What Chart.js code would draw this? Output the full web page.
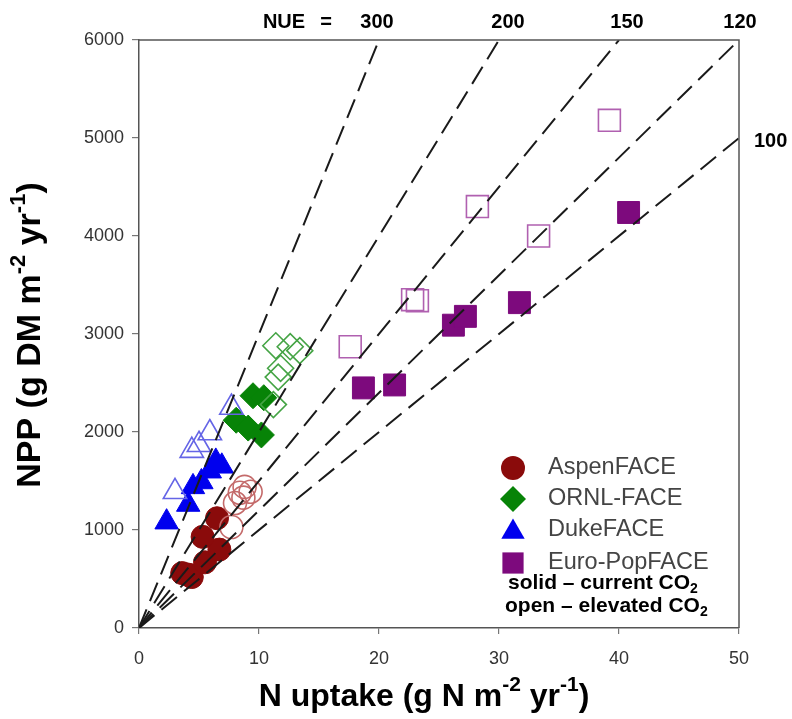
<!DOCTYPE html>
<html><head><meta charset="utf-8">
<script src="https://cdn.jsdelivr.net/npm/chart.js@4/dist/chart.umd.min.js"></script>
<style>html,body{margin:0;padding:0;background:#fff}#wrap{width:792px;height:719px}</style>
</head><body><div id="wrap"><canvas id="c" width="792" height="719"></canvas></div>
<script>
// ---- data ----
const nueValues = [300, 200, 150, 120, 100];
const xTicks = [0, 10, 20, 30, 40, 50];
const yTicks = [0, 1000, 2000, 3000, 4000, 5000, 6000];
const sites = ['AspenFACE', 'ORNL-FACE', 'DukeFACE', 'Euro-PopFACE'];

const aspenCurrentX = [3.6, 4.4, 4.1, 5.5, 6.7, 5.3, 6.5];
const aspenCurrentY = [560, 520, 545, 670, 800, 930, 1120];
const aspenElevX = [7.7, 8.0, 8.4, 8.8, 9.3, 8.7];
const aspenElevY = [1030, 1275, 1380, 1440, 1390, 1330];

const ornlCurrentX = [9.5, 10.4, 8.1, 9.1, 10.2];
const ornlCurrentY = [2370, 2350, 2120, 2040, 1970];
const ornlElevX = [11.4, 12.6, 13.4, 11.8, 11.6, 11.2];
const ornlElevY = [2880, 2870, 2830, 2650, 2560, 2280];

const dukeCurrentX = [2.3, 4.1, 4.5, 5.2, 5.9, 6.4, 6.9];
const dukeCurrentY = [1080, 1260, 1440, 1490, 1600, 1700, 1650];
const dukeElevX = [3.0, 4.4, 5.0, 5.9, 7.7];
const dukeElevY = [1390, 1810, 1870, 1990, 2250];

const euroCurrentX = [18.7, 21.3, 26.2, 27.2, 31.7, 40.8];
const euroCurrentY = [2450, 2480, 3090, 3180, 3320, 4240];
const euroElevX = [17.6, 22.8, 23.2, 28.2, 33.3, 39.2];
const euroElevY = [2870, 3350, 3340, 4300, 4000, 5180];

const X_MAX = 50, Y_MAX = 6000;

function pts(xs, ys) { return xs.map((x, i) => ({ x: x, y: ys[i] })); }

const colors = {
  aspen: '#8a0b0b', aspenOpen: '#c46a6a',
  ornl: '#078307', ornlOpen: '#45a445',
  duke: '#0000ee', dukeOpen: '#6565e6',
  euro: '#7d0a7d', euroOpen: '#b060b0'
};
const FAM = '"Liberation Sans", Arial, sans-serif';

function markerSet(label, data, style, radius, color, filled) {
  return {
    label: label, data: data, order: 2,
    pointStyle: style, pointRadius: radius, pointHoverRadius: radius,
    pointBackgroundColor: filled ? color : 'rgba(0,0,0,0)',
    pointBorderColor: color, pointBorderWidth: filled ? 1 : 1.6,
    showLine: false
  };
}

const R = { circle: 11.5, rectRot: 13, triangle: 13.5, rect: 15.5 };
const datasets = [];
datasets.push(markerSet('Aspen elevated', pts(aspenElevX, aspenElevY), 'circle', R.circle, colors.aspenOpen, false));
datasets.push(markerSet('ORNL elevated', pts(ornlElevX, ornlElevY), 'rectRot', R.rectRot, colors.ornlOpen, false));
datasets.push(markerSet('Duke elevated', pts(dukeElevX, dukeElevY), 'triangle', R.triangle, colors.dukeOpen, false));
datasets.push(markerSet('Euro elevated', pts(euroElevX, euroElevY), 'rect', R.rect, colors.euroOpen, false));
datasets.push(markerSet('Aspen current', pts(aspenCurrentX, aspenCurrentY), 'circle', R.circle, colors.aspen, true));
datasets.push(markerSet('ORNL current', pts(ornlCurrentX, ornlCurrentY), 'rectRot', R.rectRot, colors.ornl, true));
datasets.push(markerSet('Duke current', pts(dukeCurrentX, dukeCurrentY), 'triangle', R.triangle, colors.duke, true));
datasets.push(markerSet('Euro current', pts(euroCurrentX, euroCurrentY), 'rect', R.rect, colors.euro, true));

nueValues.forEach(n => {
  const xEnd = Math.min(X_MAX, Y_MAX / n);
  datasets.push({
    label: 'NUE ' + n, order: 0,
    data: [{ x: 0, y: 0 }, { x: xEnd, y: n * xEnd }],
    showLine: true, borderColor: '#1a1a1a', borderWidth: 2,
    borderDash: [20, 9], pointRadius: 0, fill: false
  });
});

// ---- rich text helper (super/subscripts) ----
function drawRich(ctx, parts, x, y, size, weight, color, align) {
  const small = Math.round(size * 0.66);
  let total = 0;
  parts.forEach(p => {
    ctx.font = weight + ' ' + (p.s ? small : size) + 'px ' + FAM;
    p.w = ctx.measureText(p.t).width; total += p.w;
  });
  let cx = align === 'center' ? x - total / 2 : (align === 'right' ? x - total : x);
  ctx.fillStyle = color; ctx.textBaseline = 'middle'; ctx.textAlign = 'left';
  parts.forEach(p => {
    ctx.font = weight + ' ' + (p.s ? small : size) + 'px ' + FAM;
    const dy = p.s === 1 ? -size * 0.36 : (p.s === -1 ? size * 0.3 : 0);
    ctx.fillText(p.t, cx, y + dy);
    cx += p.w;
  });
}

function legendShape(ctx, style, x, y, r, color) {
  ctx.save(); ctx.fillStyle = color; ctx.beginPath();
  if (style === 'circle') ctx.arc(x, y, r, 0, Math.PI * 2);
  else if (style === 'rectRot') { ctx.moveTo(x, y - r); ctx.lineTo(x + r, y); ctx.lineTo(x, y + r); ctx.lineTo(x - r, y); ctx.closePath(); }
  else if (style === 'triangle') { ctx.moveTo(x, y - r); ctx.lineTo(x + r * 0.866, y + r * 0.5); ctx.lineTo(x - r * 0.866, y + r * 0.5); ctx.closePath(); }
  else { const s = r * 0.7071; ctx.rect(x - s, y - s, 2 * s, 2 * s); }
  ctx.fill(); ctx.restore();
}

const annot = {
  id: 'annot',
  afterDraw(chart) {
    const ctx = chart.ctx, a = chart.chartArea;
    const xs = chart.scales.x, ys = chart.scales.y;
    ctx.save();
    // frame top & right
    ctx.strokeStyle = '#555'; ctx.lineWidth = 1.5;
    ctx.beginPath(); ctx.moveTo(a.left, a.top); ctx.lineTo(a.right, a.top); ctx.lineTo(a.right, a.bottom); ctx.stroke();

    // NUE labels
    ctx.font = 'bold 20px ' + FAM; ctx.fillStyle = '#000'; ctx.textBaseline = 'middle'; ctx.textAlign = 'center';
    ctx.fillText('NUE', 284, 22);
    ctx.fillText('=', 326, 22);
    const topOffset = { 300: -2, 200: 9, 150: 8, 120: 1 };
    nueValues.forEach(n => {
      const xEnd = Math.min(X_MAX, Y_MAX / n);
      const yEnd = n * xEnd;
      if (yEnd >= Y_MAX) { ctx.textAlign = 'center'; ctx.fillText(String(n), xs.getPixelForValue(xEnd) + (topOffset[n] || 0), 22); }
      else { ctx.textAlign = 'left'; ctx.fillText(String(n), a.right + 15, ys.getPixelForValue(yEnd) + 3); }
    });

    // axis titles
    drawRich(ctx, [{ t: 'N uptake (g N m' }, { t: '-2', s: 1 }, { t: ' yr' }, { t: '-1', s: 1 }, { t: ')' }],
      424, 697, 32, 'bold', '#000', 'center');
    ctx.save(); ctx.translate(31, 335); ctx.rotate(-Math.PI / 2);
    drawRich(ctx, [{ t: 'NPP (g DM m' }, { t: '-2', s: 1 }, { t: ' yr' }, { t: '-1', s: 1 }, { t: ')' }],
      0, 0, 34, 'bold', '#000', 'center');
    ctx.restore();

    // legend
    const styles = ['circle', 'rectRot', 'triangle', 'rect'];
    const lc = [colors.aspen, colors.ornl, colors.duke, colors.euro];
    const lr = [12, 13, 13.5, 15];
    const ly = [468, 499, 530, 563];
    sites.forEach((s, i) => {
      legendShape(ctx, styles[i], 513, ly[i] + (i === 2 ? 2 : 0), lr[i], lc[i]);
      ctx.font = '23.5px ' + FAM;
      ctx.fillStyle = '#444'; ctx.textAlign = 'left'; ctx.textBaseline = 'middle';
      ctx.fillText(s, 548, ly[i]);
    });
    drawRich(ctx, [{ t: 'solid \u2013 current CO' }, { t: '2', s: -1 }], 508, 583, 21, 'bold', '#000', 'left');
    drawRich(ctx, [{ t: 'open \u2013 elevated CO' }, { t: '2', s: -1 }], 505, 606, 21, 'bold', '#000', 'left');
    ctx.restore();
  }
};

new Chart(document.getElementById('c'), {
  type: 'scatter',
  data: { datasets: datasets },
  options: {
    responsive: false, animation: false, devicePixelRatio: 1,
    layout: { padding: { left: 0, top: 40, right: 53, bottom: 0 } },
    plugins: { legend: { display: false }, tooltip: { enabled: false } },
    scales: {
      x: {
        type: 'linear', min: 0, max: X_MAX,
        afterFit: s => { s.height = 91; },
        afterBuildTicks: s => { s.ticks = xTicks.map(v => ({ value: v })); },
        grid: { drawOnChartArea: false, drawTicks: true, tickLength: 6, tickColor: '#777', lineWidth: 1.2 },
        border: { display: true, color: '#555', width: 1.5 },
        ticks: { padding: 14, color: '#333', font: { size: 18, family: FAM }, callback: v => String(v) }
      },
      y: {
        type: 'linear', min: 0, max: Y_MAX,
        afterFit: s => { s.width = 139; },
        afterBuildTicks: s => { s.ticks = yTicks.map(v => ({ value: v })); },
        grid: { drawOnChartArea: false, drawTicks: true, tickLength: 7, tickColor: '#777', lineWidth: 1.2 },
        border: { display: true, color: '#555', width: 1.5 },
        ticks: { padding: 8, color: '#333', font: { size: 18, family: FAM }, callback: v => String(v) }
      }
    }
  },
  plugins: [annot]
});
</script></body></html>
